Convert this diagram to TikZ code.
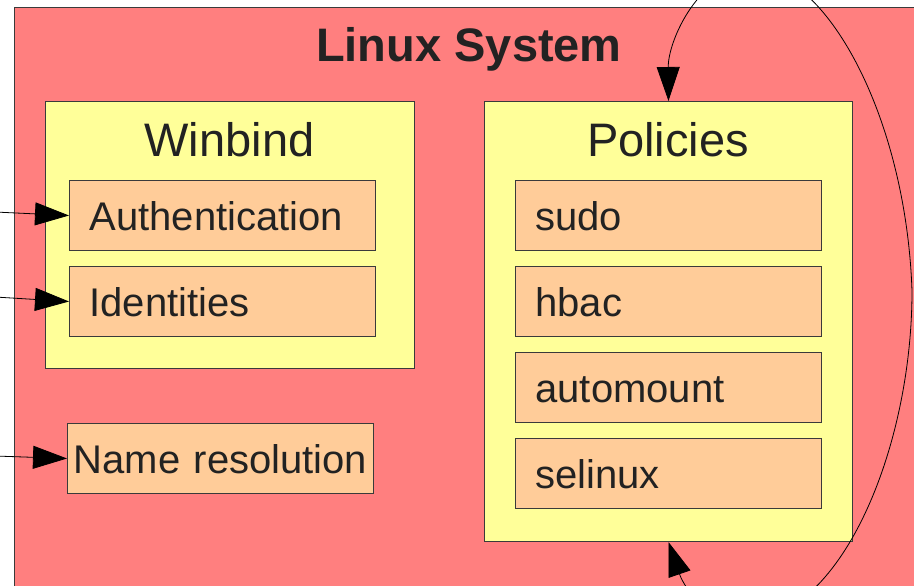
\documentclass[tikz,border=0pt]{standalone}
\usepackage{fontspec}
\setmainfont{Liberation Sans}
\usetikzlibrary{arrows.meta}
\definecolor{pinkbg}{HTML}{FF7F7F}
\definecolor{yel}{HTML}{FFFF99}
\definecolor{org}{HTML}{FFCC99}
\definecolor{txt}{HTML}{222222}
\definecolor{edgec}{HTML}{3A3A3A}
\begin{document}
\begin{tikzpicture}[x=1pt,y=-1pt,
  ybox/.style={draw=edgec, fill=yel, line width=1pt, inner sep=0pt, anchor=north west},
  obox/.style={draw=edgec, fill=org, line width=1pt, anchor=north west, minimum height=70pt,
    text width=266pt, inner xsep=20pt, inner ysep=0pt, align=left,
    font=\fontsize{40}{48}\selectfont, text height=29pt, text depth=0pt, text=txt},
  ttl/.style={font=\fontsize{47}{56}\selectfont, text=txt, anchor=base, inner sep=0pt},
  inarrow/.style={line width=0.8pt, -{Triangle[length=34pt,width=23pt]}},
  looparrow/.style={line width=0.8pt, {Triangle[length=34pt,width=23pt]}-{Triangle[length=34pt,width=23pt]}}
]
\useasboundingbox (0,0) rectangle (914,586);
\clip (0,0) rectangle (914,586);
\fill[white] (0,0) rectangle (914,586);
\node[draw=edgec, fill=pinkbg, line width=1pt, inner sep=0pt, anchor=north west,
  minimum width=960pt, minimum height=640pt] (sys) at (14,7) {};
\node[ttl, font=\fontsize{47}{56}\selectfont\bfseries] (title) at (469,62) {Linux System};

\node[ybox, minimum width=369pt, minimum height=267pt] (winbind) at (45,101) {};
\node[ttl] (wtitle) at (229.5,156) {Winbind};
\node[obox] (auth) at (69,180) {Authentication};
\node[obox] (ident) at (69,266) {Identities};

\node[obox, align=center, text width=300pt, inner xsep=3pt] (names) at (67,423) {Name resolution};

\node[ybox, minimum width=368pt, minimum height=440pt] (pol) at (484,101) {};
\node[ttl] (ptitle) at (668,156) {Policies};
\node[obox] (sudo) at (515,180) {sudo};
\node[obox] (hbac) at (515,266) {hbac};
\node[obox] (automount) at (515,352) {automount};
\node[obox] (selinux) at (515,438) {selinux};

\coordinate (a0) at (-5,212);
\coordinate (i0) at (-5,297);
\coordinate (n0) at (-5,456);
\draw[inarrow] (a0) -- (auth.west);
\draw[inarrow] (i0) -- (ident.west);
\draw[inarrow] (n0) -- (names.west);

\draw[looparrow] (pol.south) .. controls (685,590) and (710,622) .. (742,622)
  .. controls (840,622) and (912,450) .. (912,291)
  .. controls (906,115) and (825,-30) .. (752,-30)
  .. controls (700,-30) and (668,40) .. (pol.north);
\end{tikzpicture}
\end{document}
